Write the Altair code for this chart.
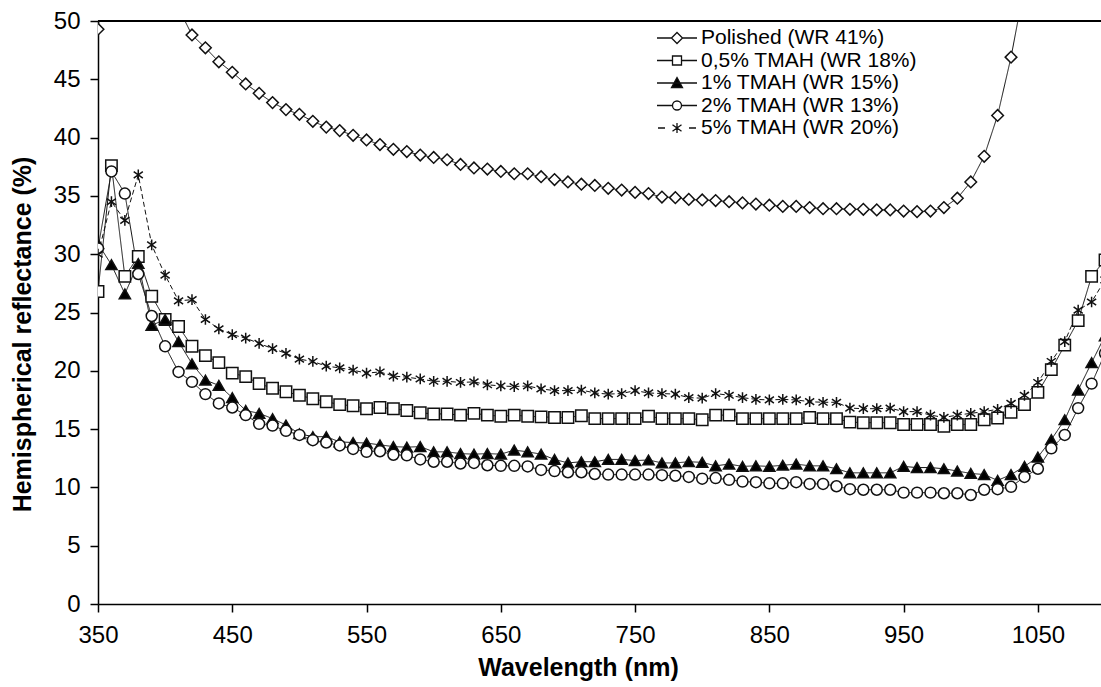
import altair as alt
import pandas as pd

# ---------------- data ----------------
wavelength = list(range(350, 1101, 10))  # 350 ... 1100 nm

polished_wl = list(range(350, 1041, 10))
polished = [49.3, 60.0, 61.0, 58.5, 56.0, 53.5, 51.1, 48.8, 47.7, 46.5,
            45.6, 44.6, 43.8, 43.0, 42.4, 42.0, 41.4, 40.9, 40.6, 40.2,
            39.8, 39.4, 39.0, 38.8, 38.5, 38.3, 38.1, 37.7, 37.4, 37.3,
            37.1, 36.9, 36.9, 36.65, 36.4, 36.2, 36.0, 35.9, 35.65, 35.5,
            35.3, 35.2, 34.9, 34.85, 34.7, 34.65, 34.6, 34.5, 34.4, 34.3,
            34.2, 34.1, 34.1, 34.0, 33.9, 33.9, 33.85, 33.85, 33.8, 33.8,
            33.7, 33.65, 33.7, 34.0, 34.8, 36.2, 38.4, 41.9, 46.9, 53.0]

tmah05 = [26.8, 37.6, 28.1, 29.8, 26.4, 24.4, 23.8, 22.1, 21.3, 20.7,
          19.8, 19.5, 18.9, 18.5, 18.2, 17.9, 17.6, 17.35, 17.1, 17.0,
          16.75, 16.85, 16.75, 16.6, 16.4, 16.3, 16.3, 16.2, 16.35, 16.2,
          16.1, 16.2, 16.1, 16.05, 16.0, 16.0, 16.15, 15.9, 15.9, 15.9,
          15.9, 16.1, 15.9, 15.9, 15.9, 15.8, 16.2, 16.2, 15.9, 15.9,
          15.9, 15.9, 15.9, 16.0, 15.9, 15.9, 15.6, 15.55, 15.55, 15.55,
          15.4, 15.4, 15.4, 15.25, 15.4, 15.4, 15.8, 15.95, 16.45, 17.1,
          18.15, 20.1, 22.2, 24.3, 28.1, 29.5]

tmah1 = [30.9, 29.1, 26.6, 29.2, 23.9, 24.4, 22.5, 20.6, 19.2, 18.75,
         17.7, 16.6, 16.35, 15.9, 15.35, 14.6, 14.35, 14.35, 13.9, 13.85,
         13.8, 13.65, 13.5, 13.45, 13.5, 13.05, 13.05, 12.9, 12.85, 12.9,
         12.85, 13.2, 13.05, 12.85, 12.4, 12.1, 12.2, 12.2, 12.4, 12.4,
         12.3, 12.35, 12.1, 12.1, 12.2, 12.15, 11.85, 12.0, 11.8, 11.85,
         11.8, 11.9, 12.0, 11.85, 11.85, 11.6, 11.25, 11.25, 11.25, 11.25,
         11.8, 11.7, 11.7, 11.6, 11.4, 11.2, 11.1, 10.6, 11.1, 11.8,
         12.6, 14.1, 15.8, 18.35, 20.7, 23.0]

tmah2 = [30.5, 37.1, 35.2, 28.3, 24.7, 22.1, 19.9, 19.05, 18.0, 17.2,
         16.85, 16.2, 15.45, 15.3, 14.85, 14.5, 14.05, 13.85, 13.6, 13.3,
         13.05, 13.1, 12.8, 12.75, 12.4, 12.2, 12.2, 12.05, 12.1, 11.9,
         11.85, 11.85, 11.8, 11.5, 11.4, 11.3, 11.3, 11.15, 11.1, 11.1,
         11.1, 11.1, 11.05, 11.0, 10.9, 10.75, 10.8, 10.65, 10.5, 10.45,
         10.35, 10.35, 10.45, 10.3, 10.3, 10.1, 9.85, 9.8, 9.8, 9.8,
         9.55, 9.55, 9.55, 9.5, 9.5, 9.35, 9.8, 9.85, 10.05, 10.9,
         11.6, 13.35, 14.5, 16.8, 18.9, 21.5]

tmah5 = [30.0, 34.5, 32.9, 36.8, 30.8, 28.2, 26.0, 26.1, 24.4, 23.6,
         23.1, 22.8, 22.35, 21.9, 21.5, 21.0, 20.8, 20.4, 20.25, 20.05,
         19.8, 19.9, 19.55, 19.45, 19.3, 19.1, 19.1, 19.0, 19.05, 18.8,
         18.7, 18.65, 18.7, 18.45, 18.3, 18.3, 18.35, 18.1, 18.0, 18.05,
         18.3, 18.1, 18.05, 18.0, 17.7, 17.65, 18.05, 17.9, 17.7, 17.55,
         17.5, 17.55, 17.5, 17.35, 17.3, 17.3, 16.8, 16.75, 16.75, 16.8,
         16.5, 16.5, 16.2, 16.0, 16.2, 16.35, 16.5, 16.7, 17.2, 17.9,
         19.0, 20.8, 22.5, 25.2, 25.9, 27.8]

series_names = ["Polished (WR 41%)", "0,5% TMAH (WR 18%)", "1% TMAH (WR 15%)",
                "2% TMAH (WR 13%)", "5% TMAH (WR 20%)"]

x_ticks = [350, 450, 550, 650, 750, 850, 950, 1050]
y_ticks = [0, 5, 10, 15, 20, 25, 30, 35, 40, 45, 50]

# ---------------- table ----------------
rows = []
for w, v in zip(polished_wl, polished):
    rows.append({"series": series_names[0], "wl": w, "r": v})
for name, vals in zip(series_names[1:], [tmah05, tmah1, tmah2, tmah5]):
    for w, v in zip(wavelength, vals):
        rows.append({"series": name, "wl": w, "r": v})
df = pd.DataFrame(rows)

FONT = "Liberation Sans"
W, H = 1003, 583
INK = "#111111"

star = "M0,-1L0,1M-0.85,-0.6L0.85,0.6M-0.85,0.6L0.85,-0.6"
marker_shapes = ["diamond", "square", "triangle-up", "circle", star]
marker_fill = ["white", "white", "black", "white", "transparent"]
marker_size = [135, 115, 115, 110, 150]

legend_shapes = [
    "M-2,0L-0.55,0M0.55,0L2,0M-0.55,0L0,-0.55L0.55,0L0,0.55Z",
    "M-2,0L-0.45,0M0.45,0L2,0M-0.45,-0.45L0.45,-0.45L0.45,0.45L-0.45,0.45Z",
    "M-2,0L2,0M0,-0.55L0.55,0.45L-0.55,0.45Z",
    "M-2,0L-0.45,0M0.45,0L2,0M-0.45,0A0.45,0.45,0,1,0,0.45,0A0.45,0.45,0,1,0,-0.45,0Z",
    "M-1.9,0L-1.2,0M1.2,0L1.9,0M0,-0.5L0,0.5M-0.45,-0.33L0.45,0.33M-0.45,0.33L0.45,-0.33",
]

xscale = alt.Scale(domain=[350, 1097], nice=False, zero=False)
yscale = alt.Scale(domain=[0, 50], nice=False)

xaxis = alt.Axis(values=x_ticks, title="Wavelength (nm)", grid=False, format="d",
                 tickSize=8, labelPadding=11, labelFlush=False, titleX=480, titleY=71,
                 titleBaseline="alphabetic", titleAlign="center")
yaxis = alt.Axis(values=y_ticks, title="Hemispherical reflectance (%)", grid=False,
                 tickSize=8, labelPadding=10, labelFlush=False, titleX=-76, titleY=313,
                 titleAngle=270, titleBaseline="middle", titleAlign="center")

base = alt.Chart(df)

frame = alt.Chart(df).mark_rule(color="black", strokeWidth=1.5).encode(
    y=alt.datum(50, scale=yscale)
)

lines = base.mark_line(clip=True, color=INK, strokeWidth=1).encode(
    x=alt.X("wl:Q", scale=xscale, axis=xaxis),
    y=alt.Y("r:Q", scale=yscale, axis=yaxis),
    detail="series:N",
    strokeDash=alt.StrokeDash("series:N", scale=alt.Scale(domain=series_names,
                              range=[[1, 0], [1, 0], [1, 0], [1, 0], [5, 3]]), legend=None),
)

points = base.mark_point(clip=True, filled=True, stroke=INK, strokeWidth=1.5,
                         opacity=1).encode(
    x=alt.X("wl:Q", scale=xscale),
    y=alt.Y("r:Q", scale=yscale),
    shape=alt.Shape("series:N", scale=alt.Scale(domain=series_names, range=marker_shapes), legend=None),
    fill=alt.Fill("series:N", scale=alt.Scale(domain=series_names, range=marker_fill), legend=None),
    size=alt.Size("series:N", scale=alt.Scale(domain=series_names, range=marker_size), legend=None),
)

leg = alt.Legend(title=None, orient="none", legendX=568, legendY=6,
                 labelFont=FONT, labelFontSize=21, labelColor="black", labelLimit=500,
                 symbolSize=400, symbolStrokeWidth=1.3,
                 symbolOpacity=1, labelOffset=13, rowPadding=1.5, padding=0)

legend_layer = base.transform_filter("false").mark_point(
    filled=True, strokeWidth=1.3, size=400).encode(
    shape=alt.Shape("series:N", scale=alt.Scale(domain=series_names, range=legend_shapes), legend=leg),
    fill=alt.Fill("series:N", scale=alt.Scale(domain=series_names, range=marker_fill), legend=leg),
    stroke=alt.Stroke("series:N", scale=alt.Scale(domain=series_names, range=[INK] * 5), legend=leg),
)

chart = alt.layer(frame, lines, points, legend_layer).resolve_scale(
    shape="independent", fill="independent", stroke="independent"
).properties(
    width=W, height=H,
    autosize="none",
    padding={"left": 98, "top": 21, "right": 0, "bottom": 83},
).configure_view(stroke=None).configure_axis(
    domainColor="black", domainWidth=1.5, tickColor="black", tickWidth=1.5,
    labelFont=FONT, labelFontSize=24, labelColor="black",
    titleFont=FONT, titleFontSize=25, titleFontWeight="bold", titleColor="black",
)

chart.save("out.html", embed_options={"renderer": "svg", "actions": False})
